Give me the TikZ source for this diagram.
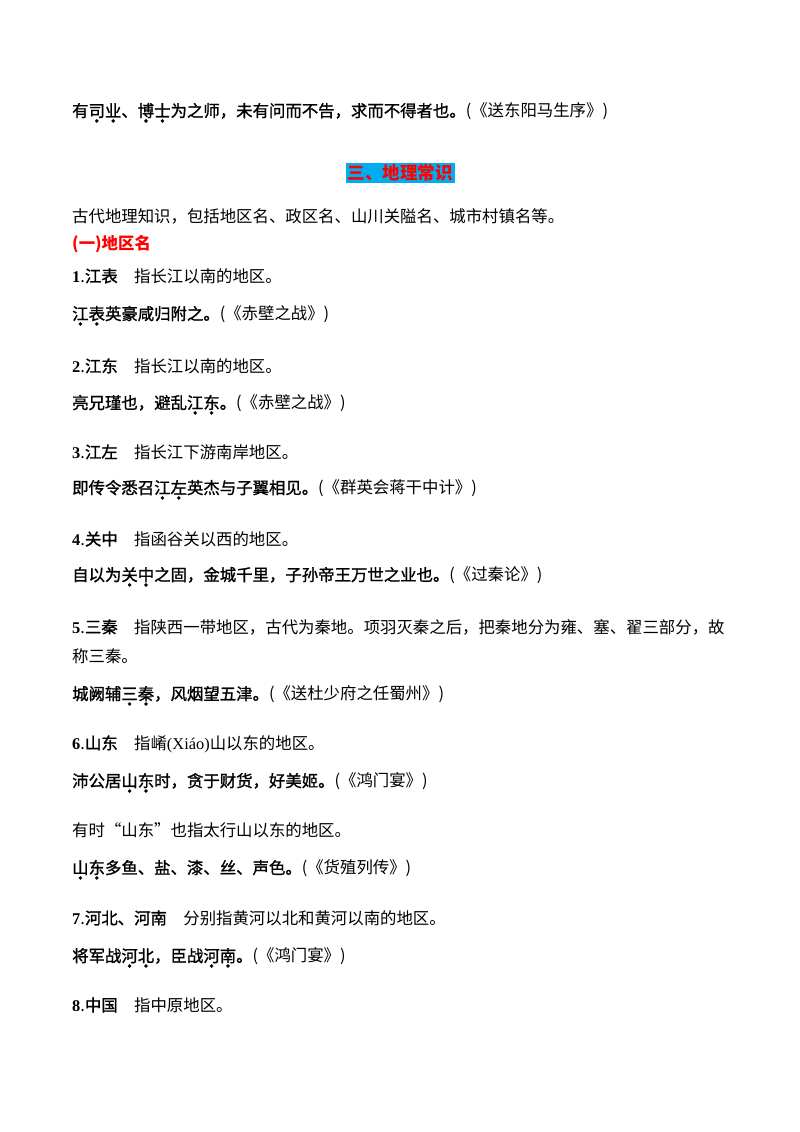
\documentclass[tikz,border=0pt]{standalone}
\usepackage{fontspec}
\setmainfont{Noto Sans CJK SC}
\newfontfamily\sen[FakeBold=1.2]{Noto Sans CJK SC}
\newfontfamily\numf{Liberation Serif}
\newcommand\dc[1]{\setbox0\hbox{#1}\rlap{\hbox to\wd0{\hss\raisebox{-0.62em}{\fontsize{16}{16}\selectfont •}\hss}}\box0}
\begin{document}
\begin{tikzpicture}[x=1pt,y=-1pt,
  t/.style={anchor=west,inner sep=0,font=\fontsize{16.4}{19}\selectfont},
  s/.style={anchor=west,inner sep=0,font=\fontsize{16.4}{19}\selectfont\sen}]
\useasboundingbox[fill=white] (0,0) rectangle (800,1132);
\node[t] (l1) at (72,115) {{\sen 有\dc{司}\dc{业}、\dc{博}\dc{士}为之师，未有问而不告，求而不得者也。}(《送东阳马生序》)};
\node[fill=cyan,inner sep=2pt,font=\fontsize{17.5}{20}\selectfont\bfseries,text=red] (h) at (400,173) {三、地理常识};
\node[t] (p) at (72,216) {古代地理知识，包括地区名、政区名、山川关隘名、城市村镇名等。};
\node[t,text=red,font=\fontsize{16.4}{19}\selectfont\bfseries] (h1) at (72,244) {(一)地区名};
\node[t] (a1) at (72,276) {{\numf\bfseries 1}.{\sen 江表}\quad 指长江以南的地区。};
\node[t] (b1) at (72,318) {{\sen \dc{江}\dc{表}英豪咸归附之。}(《赤壁之战》)};
\node[t] (a2) at (72,366) {{\numf\bfseries 2}.{\sen 江东}\quad 指长江以南的地区。};
\node[t] (b2) at (72,407) {{\sen 亮兄瑾也，避乱\dc{江}\dc{东}。}(《赤壁之战》)};
\node[t] (a3) at (72,452) {{\numf\bfseries 3}.{\sen 江左}\quad 指长江下游南岸地区。};
\node[t] (b3) at (72,492) {{\sen 即传令悉召\dc{江}\dc{左}英杰与子翼相见。}(《群英会蒋干中计》)};
\node[t] (a4) at (72,539) {{\numf\bfseries 4}.{\sen 关中}\quad 指函谷关以西的地区。};
\node[t] (b4) at (72,579) {{\sen 自以为\dc{关}\dc{中}之固，金城千里，子孙帝王万世之业也。}(《过秦论》)};
\node[t] (a5) at (72,627) {{\numf\bfseries 5}.{\sen 三秦}\quad 指陕西一带地区，古代为秦地。项羽灭秦之后，把秦地分为雍、塞、翟三部分，故};
\node[t] (a5b) at (72,656) {称三秦。};
\node[t] (b5) at (72,698) {{\sen 城阙辅\dc{三}\dc{秦}，风烟望五津。}(《送杜少府之任蜀州》)};
\node[t] (a6) at (72,744) {{\numf\bfseries 6}.{\sen 山东}\quad 指崤{\numf (Xiáo)}山以东的地区。};
\node[t] (b6) at (72,785) {{\sen 沛公居\dc{山}\dc{东}时，贪于财货，好美姬。}(《鸿门宴》)};
\node[t] (c6) at (72,830) {有时“山东”也指太行山以东的地区。};
\node[t] (d6) at (72,872) {{\sen \dc{山}\dc{东}多鱼、盐、漆、丝、声色。}(《货殖列传》)};
\node[t] (a7) at (72,918) {{\numf\bfseries 7}.{\sen 河北、河南}\quad 分别指黄河以北和黄河以南的地区。};
\node[t] (b7) at (72,960) {{\sen 将军战\dc{河}\dc{北}，臣战\dc{河}\dc{南}。}(《鸿门宴》)};
\node[t] (a8) at (72,1005) {{\numf\bfseries 8}.{\sen 中国}\quad 指中原地区。};
\end{tikzpicture}
\end{document}
